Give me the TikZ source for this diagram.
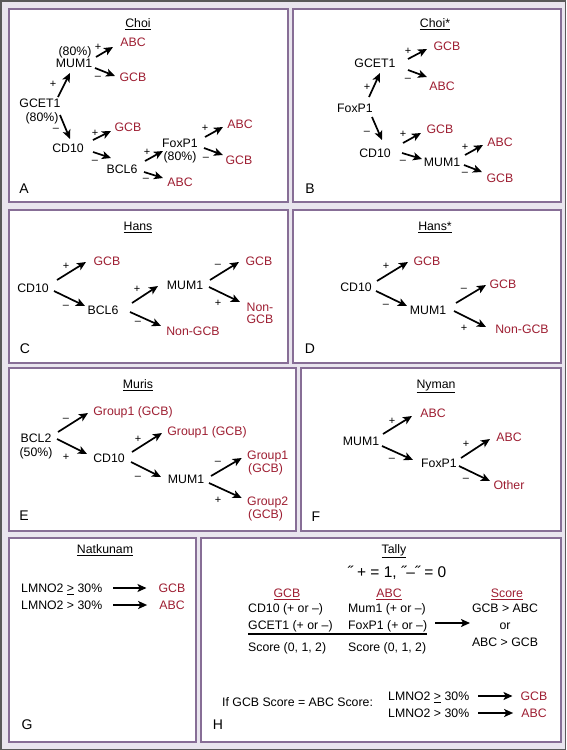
\documentclass[tikz,border=0pt]{standalone}
\usepackage{fontspec}
\setmainfont{Liberation Sans}
\usetikzlibrary{arrows.meta}
\definecolor{bgc}{RGB}{233,229,238}
\definecolor{pbd}{RGB}{135,110,150}
\definecolor{rd}{RGB}{158,30,50}
\newcommand\cn[6]{\draw[arr] ([shift={(#2,#3)}]#1.center) -- ([shift={(#5,#6)}]#4.center);}
\begin{document}
\begin{tikzpicture}[x=1pt,y=-1pt,
 lb/.style={font=\fontsize{12.3}{14}\selectfont, inner sep=0pt, text height=8.8pt, text depth=0pt},
 rl/.style={lb, text=rd},
 sg/.style={font=\fontsize{11}{12}\selectfont, inner sep=0pt},
 plet/.style={font=\fontsize{14}{16}\selectfont, inner sep=0pt, text height=10pt, text depth=0pt},
 arr/.style={line width=1.7pt, -{Stealth[length=9pt,width=8pt,inset=2.2pt]}},
 panel/.style={draw=pbd, line width=1.3pt, fill=white}]
\useasboundingbox (0,0) rectangle (566,750);
\fill[bgc] (0,0) rectangle (566,750);
\draw[black!65, line width=1.5pt] (0.75,0.75) rectangle (565.25,749.25);
% panels
\draw[panel] (9,9) rectangle (288,202);
\draw[panel] (293,9) rectangle (561,202);
\draw[panel] (9,210) rectangle (288,363);
\draw[panel] (293,210) rectangle (561,363);
\draw[panel] (9,368) rectangle (296,531);
\draw[panel] (301,368) rectangle (561,531);
\draw[panel] (9,538) rectangle (196,742);
\draw[panel] (201,538) rectangle (561,742);

% ---------------- Panel A
\node[lb] (tA) at (138,23) {\underline{Choi}};
\node[lb] (A_mum80) at (75,51) {(80\%)};
\node[lb] (A_mum) at (74,63) {MUM1};
\node[rl] (A_abc1) at (133,42) {ABC};
\node[rl] (A_gcb1) at (133,77) {GCB};
\node[lb] (A_gcet) at (40,103) {GCET1};
\node[lb] (A_gcet80) at (42,117) {(80\%)};
\node[lb] (A_cd10) at (68,148) {CD10};
\node[rl] (A_gcb2) at (128,127) {GCB};
\node[lb] (A_bcl6) at (122,169) {BCL6};
\node[lb] (A_fox) at (180,143) {FoxP1};
\node[lb] (A_fox80) at (180,156) {(80\%)};
\node[rl] (A_abc2) at (180,182) {ABC};
\node[rl] (A_abc3) at (240,124) {ABC};
\node[rl] (A_gcb3) at (239,160) {GCB};
\node[plet] (A_let) at (24,188) {A};
\cn{A_mum}{22}{-6}{A_abc1}{-20}{5}
\cn{A_mum}{21}{5}{A_gcb1}{-18}{-1}
\cn{A_gcet}{18}{-6}{A_mum}{-4}{10}
\cn{A_gcet80}{18}{-2}{A_cd10}{2}{-9}
\cn{A_cd10}{25}{-8}{A_gcb2}{-17}{4}
\cn{A_cd10}{25}{4}{A_bcl6}{-11}{-11}
\cn{A_bcl6}{23}{-8}{A_fox80}{-17}{-5}
\cn{A_bcl6}{22}{3}{A_abc2}{-17}{-4}
\cn{A_fox}{25}{-6}{A_abc3}{-17}{3}
\cn{A_fox}{24}{5}{A_gcb3}{-16}{-5}
\node[sg] (sA1) at (98,47) {+};
\node[sg] (sA2) at (98,78) {–};
\node[sg] (sA3) at (53,84) {+};
\node[sg] (sA4) at (56,130) {–};
\node[sg] (sA5) at (95,133) {+};
\node[sg] (sA6) at (95,162) {–};
\node[sg] (sA7) at (147,152) {+};
\node[sg] (sA8) at (146,180) {–};
\node[sg] (sA9) at (205,128) {+};
\node[sg] (sA10) at (206,159) {–};

% ---------------- Panel B
\node[lb] (tB) at (435,23) {\underline{Choi*}};
\node[lb] (B_gcet) at (375,63) {GCET1};
\node[rl] (B_gcb1) at (447,46) {GCB};
\node[rl] (B_abc1) at (442,86) {ABC};
\node[lb] (B_fox) at (355,108) {FoxP1};
\node[lb] (B_cd10) at (375,153) {CD10};
\node[rl] (B_gcb2) at (440,129) {GCB};
\node[lb] (B_mum) at (442,162) {MUM1};
\node[rl] (B_abc2) at (500,142) {ABC};
\node[rl] (B_gcb3) at (500,178) {GCB};
\node[plet] (B_let) at (310,188) {B};
\cn{B_gcet}{33}{-4}{B_gcb1}{-20}{3}
\cn{B_gcet}{33}{7}{B_abc1}{-15}{-9}
\cn{B_fox}{14}{-11}{B_gcet}{5}{10}
\cn{B_fox}{17}{9}{B_cd10}{7}{-13}
\cn{B_cd10}{28}{-10}{B_gcb2}{-19}{4}
\cn{B_cd10}{27}{0}{B_mum}{-20}{-3}
\cn{B_mum}{23}{-7}{B_abc2}{-17}{3}
\cn{B_mum}{22}{3}{B_gcb3}{-18}{-6}
\node[sg] (sB1) at (408,51) {+};
\node[sg] (sB2) at (408,80) {–};
\node[sg] (sB3) at (367,87) {+};
\node[sg] (sB4) at (367,133) {–};
\node[sg] (sB5) at (403,134) {+};
\node[sg] (sB6) at (403,162) {–};
\node[sg] (sB7) at (465,147) {+};
\node[sg] (sB8) at (465,174) {–};

% ---------------- Panel C
\node[lb] (tC) at (138,226) {\underline{Hans}};
\node[lb] (C_cd10) at (33,288) {CD10};
\node[rl] (C_gcb1) at (107,261) {GCB};
\node[lb] (C_bcl6) at (103,310) {BCL6};
\node[lb] (C_mum) at (185,285) {MUM1};
\node[rl] (C_ngcb1) at (193,331) {Non-GCB};
\node[rl] (C_gcb2) at (259,261) {GCB};
\node[rl] (C_ngcb2) at (260,307) {Non-};
\node[rl] (C_ngcb2b) at (260,319) {GCB};
\node[plet] (C_let) at (25,348) {C};
\cn{C_cd10}{24}{-8}{C_gcb1}{-21}{1}
\cn{C_cd10}{21}{3}{C_bcl6}{-18}{-4}
\cn{C_bcl6}{29}{-7}{C_mum}{-27}{1}
\cn{C_bcl6}{27}{2}{C_ngcb1}{-32}{-5}
\cn{C_mum}{25}{-5}{C_gcb2}{-20}{1}
\cn{C_mum}{24}{2}{C_ngcb2}{-20}{-5}
\node[sg] (sC1) at (66,266) {+};
\node[sg] (sC2) at (66,307) {–};
\node[sg] (sC3) at (137,289) {+};
\node[sg] (sC4) at (138,323) {–};
\node[sg] (sC5) at (218,266) {–};
\node[sg] (sC6) at (218,303) {+};

% ---------------- Panel D
\node[lb] (tD) at (435,226) {\underline{Hans*}};
\node[lb] (D_cd10) at (356,287) {CD10};
\node[rl] (D_gcb1) at (427,261) {GCB};
\node[lb] (D_mum) at (428,310) {MUM1};
\node[rl] (D_gcb2) at (503,284) {GCB};
\node[rl] (D_ngcb) at (522,329) {Non-GCB};
\node[plet] (D_let) at (310,348) {D};
\cn{D_cd10}{21}{-6}{D_gcb1}{-19}{1}
\cn{D_cd10}{20}{4}{D_mum}{-21}{-4}
\cn{D_mum}{28}{-7}{D_gcb2}{-17}{1}
\cn{D_mum}{26}{1}{D_ngcb}{-36}{-2}
\node[sg] (sD1) at (386,266) {+};
\node[sg] (sD2) at (386,306) {–};
\node[sg] (sD3) at (464,290) {–};
\node[sg] (sD4) at (464,328) {+};

% ---------------- Panel E
\node[lb] (tE) at (138,384) {\underline{Muris}};
\node[lb] (E_bcl2) at (36,438) {BCL2};
\node[lb] (E_bcl2p) at (36,452) {(50\%)};
\node[rl] (E_g1a) at (133,411) {Group1 (GCB)};
\node[lb] (E_cd10) at (109,458) {CD10};
\node[rl] (E_g1b) at (207,431) {Group1 (GCB)};
\node[lb] (E_mum) at (186,479) {MUM1};
\node[rl, anchor=west] (E_g1c) at (247,455) {Group1};
\node[rl, anchor=west] (E_g1cb) at (248,468) {(GCB)};
\node[rl, anchor=west] (E_g2) at (247,501) {Group2};
\node[rl, anchor=west] (E_g2b) at (248,514) {(GCB)};
\node[plet] (E_let) at (24,515) {E};
\cn{E_bcl2}{22}{-6}{E_g1a}{-45}{2}
\cn{E_bcl2}{21}{1}{E_cd10}{-22}{-4}
\cn{E_cd10}{23}{-6}{E_g1b}{-45}{2}
\cn{E_cd10}{22}{4}{E_mum}{-25}{-2}
\cn{E_mum}{25}{-3}{E_g1c}{-26}{3}
\cn{E_mum}{23}{4}{E_g2}{-26}{-3}
\node[sg] (sE1) at (66,420) {–};
\node[sg] (sE2) at (66,457) {+};
\node[sg] (sE3) at (138,439) {+};
\node[sg] (sE4) at (138,478) {–};
\node[sg] (sE5) at (218,463) {–};
\node[sg] (sE6) at (218,500) {+};

% ---------------- Panel F
\node[lb] (tF) at (436,384) {\underline{Nyman}};
\node[lb] (F_mum) at (361,441) {MUM1};
\node[rl] (F_abc1) at (433,413) {ABC};
\node[lb] (F_fox) at (439,463) {FoxP1};
\node[rl] (F_abc2) at (509,437) {ABC};
\node[rl] (F_other) at (509,485) {Other};
\node[plet] (F_let) at (316,516) {F};
\cn{F_mum}{22}{-7}{F_abc1}{-21}{3}
\cn{F_mum}{21}{5}{F_fox}{-26}{-3}
\cn{F_fox}{22}{-5}{F_abc2}{-19}{2}
\cn{F_fox}{20}{3}{F_other}{-19}{-4}
\node[sg] (sF1) at (392,421) {+};
\node[sg] (sF2) at (392,460) {–};
\node[sg] (sF3) at (466,444) {+};
\node[sg] (sF4) at (466,480) {–};

% ---------------- Panel G
\node[lb] (tG) at (105,549) {\underline{Natkunam}};
\node[lb, anchor=west] (G_l1) at (21,588) {LMNO2 \underline{>} 30\%};
\node[lb, anchor=west] (G_l2) at (21,605) {LMNO2 > 30\%};
\node[rl] (G_gcb) at (172,588) {GCB};
\node[rl] (G_abc) at (172,605) {ABC};
\node[plet] (G_let) at (27,724) {G};
\draw[arr] ([shift={(11,0)}]G_l1.east) -- ([shift={(-12,0)}]G_gcb.west);
\draw[arr] ([shift={(11,0)}]G_l2.east) -- ([shift={(-12,0)}]G_abc.west);

% ---------------- Panel H
\node[lb] (tH) at (394,549) {\underline{Tally}};
\node[font=\fontsize{15.5}{17}\selectfont, inner sep=0pt, text height=11pt, text depth=0pt] (H_eq) at (397,572) {˝ + = 1, ˝–˝ = 0};
\node[rl] (H_gcbh) at (287,593) {\underline{GCB}};
\node[rl] (H_abch) at (389,593) {\underline{ABC}};
\node[lb, anchor=west] (H_cd10) at (248,608) {CD10 (+ or –)};
\node[lb, anchor=west] (H_mum) at (348,608) {Mum1 (+ or –)};
\node[lb, anchor=west] (H_gcet) at (248,625) {GCET1 (+ or –)};
\node[lb, anchor=west] (H_fox) at (348,625) {FoxP1 (+ or –)};
\draw[line width=1.2pt] (248,634) -- (427,634);
\node[lb, anchor=west] (H_s1) at (248,647) {Score (0, 1, 2)};
\node[lb, anchor=west] (H_s2) at (348,647) {Score (0, 1, 2)};
\node[rl] (H_sc) at (507,593) {\underline{Score}};
\node[lb] (H_r1) at (505,608) {GCB > ABC};
\node[lb] (H_or) at (505,625) {or};
\node[lb] (H_r2) at (505,642) {ABC > GCB};
\draw[arr] ([shift={(8,-2)}]H_fox.east) -- ([shift={(-35,-2)}]H_or.center);
\node[lb, anchor=west] (H_if) at (222,702) {If GCB Score = ABC Score:};
\node[lb, anchor=west] (H_l1) at (388,696) {LMNO2 \underline{>} 30\%};
\node[lb, anchor=west] (H_l2) at (388,713) {LMNO2 > 30\%};
\node[rl] (H_gcb) at (534,696) {GCB};
\node[rl] (H_abc) at (534,713) {ABC};
\node[plet] (H_let) at (218,724) {H};
\draw[arr] ([shift={(9,0)}]H_l1.east) -- ([shift={(-8,0)}]H_gcb.west);
\draw[arr] ([shift={(9,0)}]H_l2.east) -- ([shift={(-8,0)}]H_abc.west);
\end{tikzpicture}
\end{document}
